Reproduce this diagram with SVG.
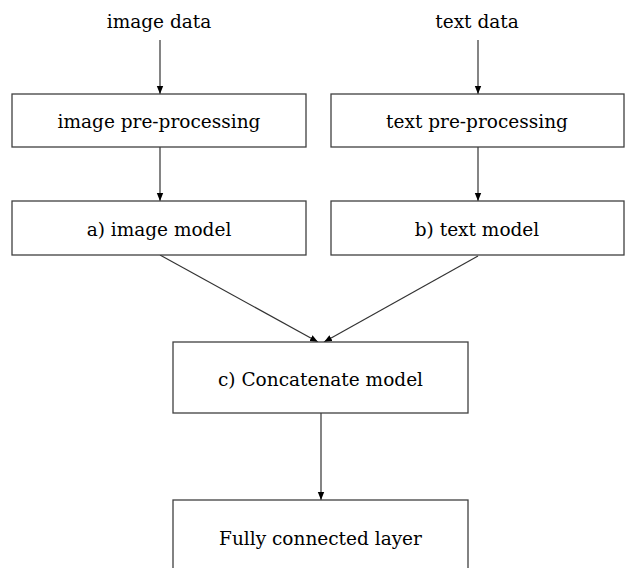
<svg xmlns="http://www.w3.org/2000/svg" width="625" height="568" viewBox="0 0 625 568">
<style>
.box{fill:#fff;stroke:#404040;stroke-width:1.3}
.lbl{font-family:'DejaVu Serif',serif;font-size:18.5px;fill:#000;text-anchor:middle}
.edge{stroke:#333;stroke-width:1.2;fill:none;marker-end:url(#ah)}
</style>
<defs>
<marker id="ah" viewBox="0 0 10 10" refX="10" refY="5" markerWidth="8" markerHeight="8" markerUnits="userSpaceOnUse" orient="auto">
<path d="M0,1 L10,5 L0,9 Z" fill="#000"/>
</marker>
</defs>
<rect width="625" height="568" fill="#fff"/>
<g id="connectors">
<line class="edge" x1="160" y1="40" x2="160" y2="94"/>
<line class="edge" x1="478" y1="40" x2="478" y2="94"/>
<line class="edge" x1="160" y1="147" x2="160" y2="201"/>
<line class="edge" x1="478" y1="147" x2="478" y2="201"/>
<line class="edge" x1="160" y1="255" x2="318" y2="342"/>
<line class="edge" x1="478" y1="256" x2="324" y2="342"/>
<line class="edge" x1="321" y1="413" x2="321" y2="500"/>
</g>
<g id="image-data"><text class="lbl" x="159" y="28">image data</text></g>
<g id="text-data"><text class="lbl" x="477" y="28">text data</text></g>
<g id="image-preprocessing">
<rect class="box" x="12" y="94" width="294" height="53"/>
<text class="lbl" x="159" y="128">image pre-processing</text>
</g>
<g id="text-preprocessing">
<rect class="box" x="331" y="94" width="293" height="53"/>
<text class="lbl" x="477" y="128">text pre-processing</text>
</g>
<g id="image-model">
<rect class="box" x="12" y="201" width="294" height="54"/>
<text class="lbl" x="159" y="236">a) image model</text>
</g>
<g id="text-model">
<rect class="box" x="331" y="201" width="293" height="54"/>
<text class="lbl" x="477" y="236">b) text model</text>
</g>
<g id="concatenate-model">
<rect class="box" x="173" y="342" width="295" height="71"/>
<text class="lbl" x="320.5" y="386">c) Concatenate model</text>
</g>
<g id="fully-connected">
<rect class="box" x="173" y="500" width="295" height="80"/>
<text class="lbl" x="320.5" y="545">Fully connected layer</text>
</g>
</svg>
